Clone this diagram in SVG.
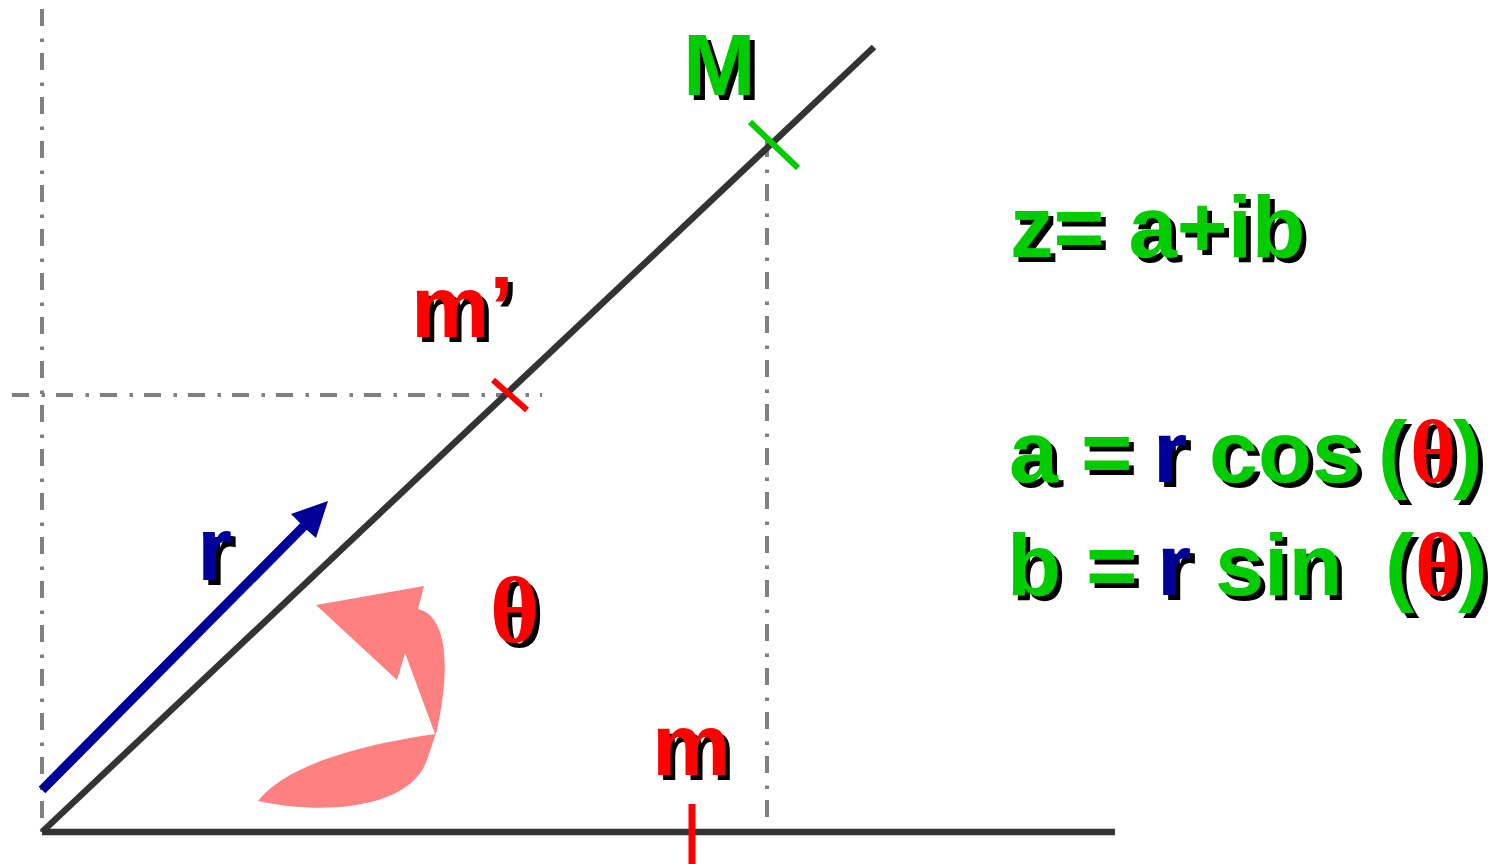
<svg xmlns="http://www.w3.org/2000/svg" width="1497" height="864" viewBox="0 0 1497 864">
<defs>
<style>
.dash{stroke:#808080;stroke-width:4;fill:none;stroke-dasharray:17 12.5 3.5 11}
.axis{stroke:#333333;stroke-width:6.5;fill:none}
.lbl{font-family:"Liberation Sans",Arial,sans-serif;font-weight:bold;filter:url(#sh)}
.ser{font-family:"Liberation Serif","Times New Roman",serif;font-weight:bold}
.g{fill:#00cc00}.rd{fill:#ff0000}.bl{fill:#000099}
</style>
<filter id="sh" x="-20%" y="-20%" width="140%" height="140%">
<feOffset in="SourceAlpha" dx="5" dy="5" result="o"/>
<feMerge><feMergeNode in="o"/><feMergeNode in="SourceGraphic"/></feMerge>
</filter>
</defs>
<rect width="1497" height="864" fill="#ffffff"/>
<g id="connectors">
<line class="dash" x1="42" y1="9" x2="42" y2="832"/>
<line class="dash" x1="12" y1="395" x2="542" y2="395"/>
<line class="dash" x1="767" y1="140" x2="767" y2="832"/>
<line class="axis" x1="42" y1="832" x2="1115" y2="832"/>
<line class="axis" x1="42" y1="832" x2="874" y2="47"/>
<line x1="750" y1="122" x2="798" y2="168" stroke="#00cc00" stroke-width="6"/>
<line x1="493" y1="380" x2="527" y2="410" stroke="#ff0000" stroke-width="6"/>
<line x1="692" y1="804" x2="692" y2="864" stroke="#ff0000" stroke-width="7"/>
<g id="r-arrow">
<line x1="42" y1="790" x2="305" y2="525" stroke="#000099" stroke-width="9.5"/>
<polygon points="328,501 291,514 299,522 308,531 316,538" fill="#000099"/>
</g>
<path id="theta-arrow" d="M258,801 C290,760 380,742 435,734 L405,653 L397,680 L316,605 L424,586 L418,609 C445,615 452,660 437,730 L427,760 C410,810 320,815 258,801 Z" fill="#ff8080"/>
</g>
<g id="label-M"><text class="lbl g" x="683" y="95" font-size="87">M</text></g>
<g id="label-mprime"><text class="lbl rd" x="411" y="337" font-size="88">m’</text></g>
<g id="label-m"><text class="lbl rd" x="652" y="775" font-size="88">m</text></g>
<g id="label-r"><text class="lbl bl" x="197" y="580" font-size="90">r</text></g>
<g id="label-theta"><text class="lbl ser rd" x="490" y="642" font-size="94">θ</text></g>
<g id="formula-z"><text class="lbl g" x="1010" y="257" font-size="87">z= a+ib</text></g>
<g id="formula-a"><text class="lbl g" y="482" font-size="88"><tspan x="1009">a</tspan><tspan x="1081">=</tspan><tspan x="1153" class="bl">r</tspan><tspan x="1209">cos</tspan><tspan x="1378">(</tspan><tspan x="1410" class="ser rd">θ</tspan><tspan x="1453">)</tspan></text></g>
<g id="formula-b"><text class="lbl g" y="595" font-size="88"><tspan x="1007">b</tspan><tspan x="1086">=</tspan><tspan x="1157" class="bl">r</tspan><tspan x="1215">sin</tspan><tspan x="1385">(</tspan><tspan x="1415" class="ser rd">θ</tspan><tspan x="1458">)</tspan></text></g>
</svg>
